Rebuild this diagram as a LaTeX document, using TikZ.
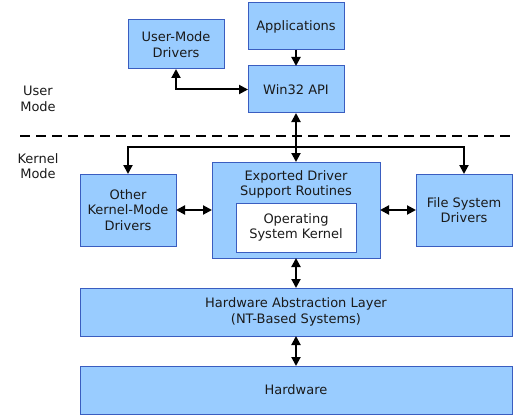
\documentclass[tikz,border=0pt]{standalone}
\usepackage{fontspec}
\setmainfont{DejaVu Sans}
\usetikzlibrary{positioning}
\usetikzlibrary{arrows.meta}
\definecolor{boxfill}{HTML}{99CCFF}
\definecolor{boxline}{HTML}{3A5DC0}
\definecolor{labeltext}{HTML}{1A1A1A}

\begin{document}
\begin{tikzpicture}[x=1pt,y=-1pt,
    block/.style={draw=boxline, fill=boxfill, line width=1pt, outer sep=0pt, inner sep=0pt,
        align=center, text=labeltext, font=\fontsize{13}{15.5}\selectfont},
    modetext/.style={align=center, text=labeltext, font=\fontsize{13}{15.5}\selectfont},
    twoway/.style={line width=2pt, {Triangle[length=9pt,width=9pt]}-{Triangle[length=9pt,width=9pt]}},
    oneway/.style={line width=2pt, -{Triangle[length=9pt,width=9pt]}},
  ]
  \useasboundingbox (0,0) rectangle (516,417);

  \node [block, minimum width=96pt, minimum height=47pt] (WIN) at (296,89.5) {Win32 API};
  \node [block, minimum width=96pt, minimum height=47pt, above=16pt of WIN] (APPS) {Applications};
  \node [block, minimum width=96pt, minimum height=49pt] (UMD) at (176,44.5) {User-Mode\\Drivers};
  \node [modetext] (USER) at (38,99) {User\\Mode};
  \node [modetext] (KERNEL) at (38,166) {Kernel\\Mode};

  \node [block, minimum width=168pt, minimum height=96pt,
         label={[modetext, anchor=north, yshift=-5pt]north:{Exported Driver\\Support Routines}}] (EXP) at (296,210) {};
  \node [block, fill=white, minimum width=120pt, minimum height=49pt] (OSK) at (296,227.5) {Operating\\System Kernel};
  \node [block, minimum width=96pt, minimum height=72pt, left=36pt of EXP] (OKMD) {Other\\Kernel-Mode\\Drivers};
  \node [block, minimum width=96pt, minimum height=72pt, right=36pt of EXP] (FSD) {File System\\Drivers};
  \node [block, minimum width=432pt, minimum height=48pt, below=30pt of EXP] (HAL) {Hardware Abstraction Layer\\(NT-Based Systems)};
  \node [block, minimum width=432pt, minimum height=48pt, below=30pt of HAL] (HW) {Hardware};

  \coordinate (BUS) at (296,147);
  \coordinate (DASHL) at (20,136);
  \coordinate (DASHR) at (516,136);

  \draw [line width=2pt, dash pattern=on 10pt off 6pt] (DASHL) -- (DASHR);

  \draw [oneway] (APPS) -- (WIN);
  \draw [twoway] (UMD.south) |- (WIN.west);
  \draw [twoway] (WIN) -- (EXP);
  \draw [oneway] (BUS) -| (OKMD.north);
  \draw [oneway] (BUS) -| (FSD.north);
  \draw [twoway] (OKMD) -- (EXP);
  \draw [twoway] (EXP) -- (FSD);
  \draw [twoway] (EXP) -- (HAL);
  \draw [twoway] (HAL) -- (HW);

\end{tikzpicture}
\end{document}
